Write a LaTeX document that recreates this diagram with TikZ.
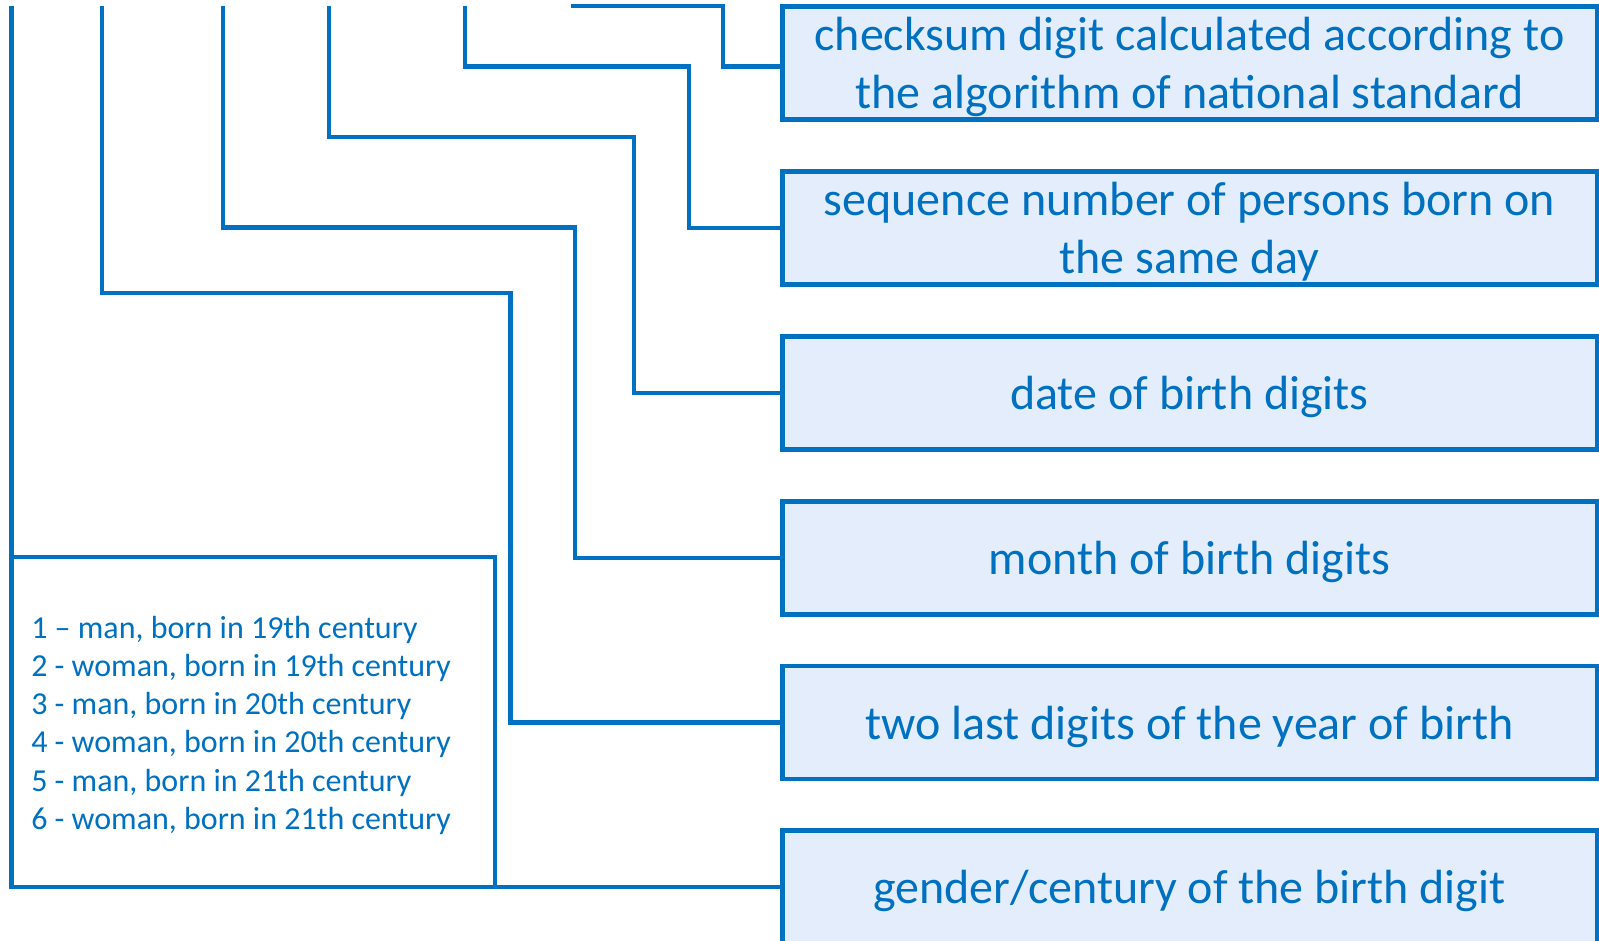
\documentclass[tikz,border=0pt]{standalone}
\usepackage{fontspec}
\setmainfont{Carlito}
\usetikzlibrary{calc}
\definecolor{ink}{RGB}{0,112,192}
\definecolor{boxfill}{RGB}{227,237,251}
% centred box text, set a little below the geometric middle of its box
\newcommand{\fieldtext}[1]{\raisebox{-3pt}[\height][\depth]{\parbox{600pt}{\centering #1}}}
\begin{document}
\begin{tikzpicture}[x=0.75pt,y=-0.75pt,
  wire/.style={draw=ink, line width=3.3pt},
  fieldbox/.style={draw=ink, fill=boxfill, line width=3.5pt,
    minimum width=611pt, minimum height=84.75pt, inner sep=0pt,
    text=ink, font=\fontsize{36}{43.5}\selectfont},
  legendbox/.style={draw=ink, line width=3.3pt, inner sep=0pt, outer sep=0pt},
  legendline/.style={text=ink, anchor=base west, inner sep=0pt,
    font=\fontsize{24}{29}\selectfont}]
\useasboundingbox (0,0) rectangle (1599,941);

% field description boxes
\node[fieldbox] (box1) at (1189.5,63) {\fieldtext{checksum digit calculated according to\\the algorithm of national standard}};
\node[fieldbox] (box2) at (1189.5,228) {\fieldtext{sequence number of persons born on\\the same day}};
\node[fieldbox] (box3) at (1189.5,393) {\fieldtext{date of birth digits}};
\node[fieldbox] (box4) at (1189.5,558) {\fieldtext{month of birth digits}};
\node[fieldbox] (box5) at (1189.5,722.5) {\fieldtext{two last digits of the year of birth}};
\node[fieldbox] (box6) at (1189.5,887) {\fieldtext{gender/century of the birth digit}};

% legend for the first digit
\node[legendbox, minimum width=362.6pt, minimum height=247.5pt] (legend) at (253.25,722) {};
\foreach \i/\t in {1/{1 – man, born in 19th century},
                   2/{2 - woman, born in 19th century},
                   3/{3 - man, born in 20th century},
                   4/{4 - woman, born in 20th century},
                   5/{5 - man, born in 21th century},
                   6/{6 - woman, born in 21th century}}
  \node[legendline] (leg\i) at (31,{638+38.3*(\i-1)}) {\t};

% free upper ends of the connectors
\coordinate (endA) at (571,6);
\coordinate (endB) at (465,6);
\coordinate (endC) at (329,6);
\coordinate (endD) at (223,6);
\coordinate (endE) at (102,6);
\coordinate (endF) at (11.5,6);
\coordinate (jA) at (723,66.7);

% connectors
\draw[wire] (endA) -| (jA) -- (jA -| box1.west);
\draw[wire] (endB) |- (689,66.7) |- (box2.west);
\draw[wire] (endC) |- (634,137.3) |- (box3.west);
\draw[wire] (endD) |- (575,227.7) |- (box4.west);
\draw[wire] (endE) |- (510.5,293.3) |- (box5.west);
\draw[wire] (endF) |- (box6.west);
\end{tikzpicture}
\end{document}
